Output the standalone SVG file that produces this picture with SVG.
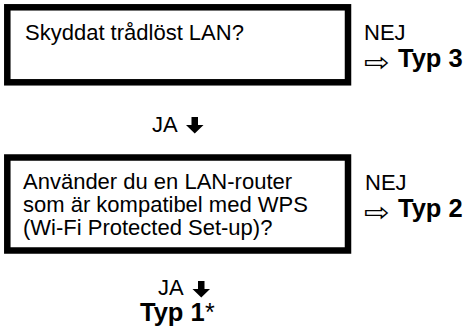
<svg xmlns="http://www.w3.org/2000/svg" width="471" height="328" viewBox="0 0 471 328">
<style>
.box{fill:#fff;stroke:#000;stroke-width:6.5}
.t{font-family:"Liberation Sans",Arial,sans-serif;font-size:22px;fill:#000}
.b{font-family:"Liberation Sans",Arial,sans-serif;font-weight:bold;font-size:25.5px;fill:#000}
.ar{font-family:"DejaVu Sans",sans-serif;font-size:26px;fill:#000}
.dn{fill:#000}
</style>
<rect width="471" height="328" fill="#fff"/>
<g id="q1">
<rect class="box" x="7.3" y="7.3" width="340.7" height="75"/>
<text class="t" x="25" y="39.5">Skyddat trådlöst LAN?</text>
</g>
<g id="no1">
<text class="t" x="364" y="39.5">NEJ</text>
<text class="ar" transform="translate(364,71) scale(1.18,1)">⇨</text>
<text class="b" x="398" y="67">Typ 3</text>
</g>
<g id="q2">
<rect class="box" x="7.3" y="157.5" width="340.7" height="93"/>
<text class="t" x="23" y="189">Använder du en LAN-router</text>
<text class="t" x="23" y="212">som är kompatibel med WPS</text>
<text class="t" x="23" y="235">(Wi-Fi Protected Set-up)?</text>
</g>
<g id="no2">
<text class="t" x="365" y="190">NEJ</text>
<text class="ar" transform="translate(364,221) scale(1.18,1)">⇨</text>
<text class="b" x="398" y="217">Typ 2</text>
</g>
<g id="connectors">
<text class="t" x="152" y="132">JA</text>
<path class="dn" d="M191.5 117h6.5v8h5.5l-8.75 8.5l-8.75-8.5h5.5z"/>
<text class="t" x="158" y="295">JA</text>
<path class="dn" d="M198 281h6.5v8h5.5l-8.75 8.5l-8.75-8.5h5.5z"/>
</g>
<g id="type1">
<text class="b" x="140" y="321">Typ 1</text>
<text class="t" x="205" y="321" style="font-size:25px">*</text>
</g>
</svg>
